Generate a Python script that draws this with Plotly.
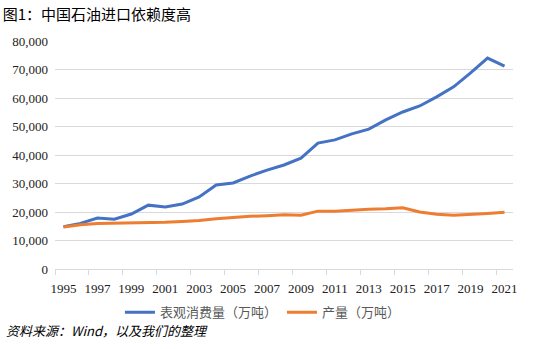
import plotly.graph_objects as go

years = list(range(1995, 2022))
consumption = [14800, 16000, 17900, 17500, 19300, 22400, 21800, 22800, 25300, 29500,
               30200, 32600, 34700, 36500, 38900, 44200, 45300, 47400, 49100, 52300,
               55100, 57200, 60400, 63900, 68800, 74000, 71200]
production = [14700, 15500, 16000, 16100, 16000, 16300, 16400, 16700, 17000, 17600,
              18100, 18500, 18700, 19000, 18900, 20300, 20300, 20700, 21000, 21100,
              21500, 20000, 19200, 18900, 19100, 19500, 19900]
label_years = list(range(1995, 2022, 2))
y_ticks = list(range(0, 80001, 10000))

SERIF = "'Times New Roman', 'Liberation Serif', 'DejaVu Serif', serif"

fig = go.Figure()
fig.add_trace(go.Scatter(x=years, y=consumption, mode="lines", name="表观消费量（万吨）",
                         line=dict(color="#4472C4", width=3)))
fig.add_trace(go.Scatter(x=years, y=production, mode="lines", name="产量（万吨）",
                         line=dict(color="#ED7D31", width=3)))

fig.update_layout(
    width=550, height=349,
    margin=dict(l=53, r=37, t=41, b=80),
    paper_bgcolor="white", plot_bgcolor="white",
    title=dict(text="图1：中国石油进口依赖度高", x=0.005, xanchor="left",
               y=0.958, yanchor="middle",
               font=dict(family="Noto Sans CJK SC", size=15, color="black")),
    xaxis=dict(range=[1994.5, 2021.5], tickmode="array", tickvals=label_years,
               ticktext=[str(y) for y in label_years], ticks="",
               showgrid=False, showline=True, linecolor="#d9d9d9", linewidth=1,
               tickfont=dict(family=SERIF, size=13, color="#222222"),
               ticklabelstandoff=7,
               minor=dict(tick0=1994.5, dtick=2, ticks="outside", ticklen=5,
                          tickcolor="#d9d9d9", tickwidth=1, showgrid=False),
               zeroline=False),
    yaxis=dict(range=[0, 80000], tickmode="array", tickvals=y_ticks,
               tickformat=",", showgrid=True, gridcolor="#d9d9d9", gridwidth=1,
               zeroline=False, showline=False, ticks="", ticklabelstandoff=6,
               tickfont=dict(family=SERIF, size=13, color="#222222")),
    legend=dict(orientation="h", x=0.454, xanchor="center", y=-0.19, yanchor="middle",
                font=dict(family="Noto Sans CJK SC", size=13, color="#595959"),
                itemwidth=30, traceorder="normal", tracegroupgap=0),
    showlegend=True,
)
fig.add_annotation(text="<i>资料来源：Wind，以及我们的整理</i>", xref="paper", yref="paper",
                   x=-0.111, y=-0.268, xanchor="left", yanchor="middle", showarrow=False,
                   font=dict(family="Noto Sans CJK SC", size=13, color="black"))

fig.write_html("out.html")
